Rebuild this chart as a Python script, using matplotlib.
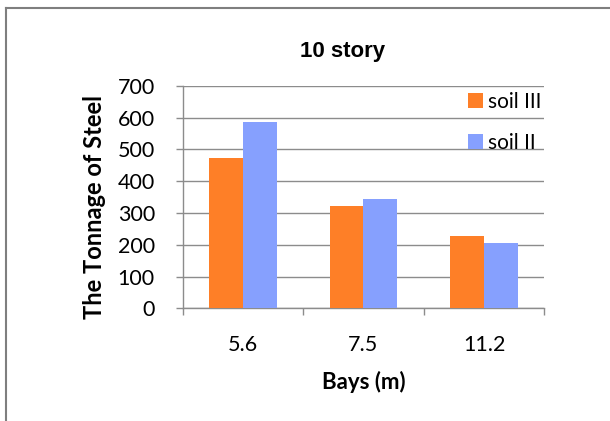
import matplotlib
matplotlib.use("Agg")
import matplotlib.pyplot as plt
import numpy as np
from matplotlib.lines import Line2D

bays = ["5.6", "7.5", "11.2"]
soil_iii = [472, 323, 226]
soil_ii = [585, 343, 205]
yticks = [0, 100, 200, 300, 400, 500, 600, 700]

ORANGE = "#fe7f27"
BLUE = "#86a0fe"
GRID = "#8c8c8c"
LABEL_FONT = ["Lato", "DejaVu Sans"]

fig = plt.figure(figsize=(6.10, 4.21), dpi=100)
ax = fig.add_axes([0.2995, 0.2677, 0.5928, 0.5287])

x = np.arange(len(bays))
w = 0.28
ax.bar(x - w / 2, soil_iii, width=w, color=ORANGE, label="soil III", zorder=3)
ax.bar(x + w / 2, soil_ii, width=w, color=BLUE, label="soil II", zorder=3)

ax.set_xlim(-0.5, len(bays) - 0.5)
ax.set_ylim(0, 700)
ax.set_yticks(yticks)
ax.set_yticklabels([str(v) for v in yticks], family=LABEL_FONT, fontsize=15.5)
ax.yaxis.grid(True, color=GRID, linewidth=1.0, zorder=0)

ax.set_xticks(x)
ax.set_xticklabels(bays, family=LABEL_FONT, fontsize=15.5)
ax.tick_params(axis="x", length=0, pad=19)
ax.set_xticks(np.arange(len(bays) + 1) - 0.5, minor=True)
ax.tick_params(axis="x", which="minor", length=5, color=GRID, width=1.0)
ax.tick_params(axis="y", length=5, color=GRID, width=1.0, pad=15)

for side in ["top", "right"]:
    ax.spines[side].set_visible(False)
for side in ["left", "bottom"]:
    ax.spines[side].set_color(GRID)
    ax.spines[side].set_linewidth(1.0)

ax.set_xlabel("Bays (m)", family=LABEL_FONT, fontsize=16, fontweight="bold", labelpad=12)
ax.set_ylabel("The Tonnage of Steel", family=LABEL_FONT, fontsize=17, fontweight="bold")
ax.yaxis.set_label_coords(-0.212, 0.453)
ax.set_title("10 story", family=["Liberation Sans"], fontsize=16, fontweight="bold",
             pad=21, x=0.442)

leg = ax.legend(loc="upper right", bbox_to_anchor=(1.045, 1.057), frameon=False,
                prop={"family": LABEL_FONT, "size": 15}, handlelength=0.75,
                handleheight=0.75, handletextpad=0.25, labelspacing=1.0)

# outer frame of the chart box
fig.add_artist(Line2D([6 / 610, 6 / 610], [0, 1 - 8 / 421], color="#7f7f7f", lw=1.5))
fig.add_artist(Line2D([6 / 610, 1], [1 - 8 / 421, 1 - 8 / 421], color="#7f7f7f", lw=1.5))

fig.savefig("out.png", dpi=100)
